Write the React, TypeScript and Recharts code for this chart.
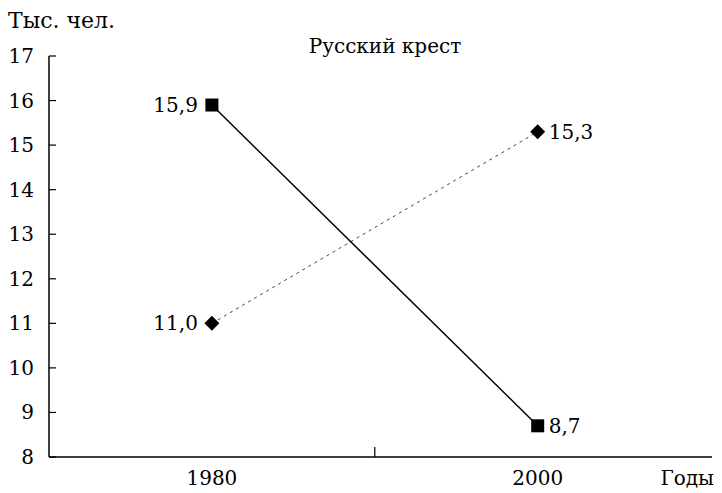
import React from "react";
import { LineChart, Line, XAxis, YAxis, LabelList } from "recharts";

const years = [1980, 2000];
const deaths = [15.9, 8.7]; // solid, squares
const births = [11.0, 15.3]; // dotted, diamonds
const yTicks = [8, 9, 10, 11, 12, 13, 14, 15, 16, 17];
const xTicks = [1980, 1990, 2000];
const labeledYears = [1980, 2000];

const data = years.map((y, i) => ({ year: y, a: deaths[i], b: births[i] }));

const FONT = "'DejaVu Serif', 'Liberation Serif', serif";
const T = { fontFamily: FONT, fontSize: 20 };

const fmt = (v: number) => v.toFixed(1).replace(".", ",");

const SquareDot = (props: any) => {
  const { cx, cy } = props;
  if (cx == null || cy == null) return null;
  return <rect x={cx - 6.5} y={cy - 6.5} width={13} height={13} fill="#000" />;
};

const DiamondDot = (props: any) => {
  const { cx, cy } = props;
  if (cx == null || cy == null) return null;
  const r = 7.5;
  return (
    <polygon
      points={`${cx},${cy - r} ${cx + r},${cy} ${cx},${cy + r} ${cx - r},${cy}`}
      fill="#000"
    />
  );
};

const SideLabel = (props: any) => {
  const { x, y, value, index } = props;
  const left = index === 0;
  return (
    <text
      x={left ? x - 14 : x + 11}
      y={y + 7}
      textAnchor={left ? "end" : "start"}
      style={T}
      fill="#000"
    >
      {fmt(value)}
    </text>
  );
};

const YTick = (props: any) => {
  const { x, y, payload } = props;
  return (
    <g>
      <line x1={x} y1={y} x2={x + 7} y2={y} stroke="#000" strokeWidth={1.2} />
      <text x={x - 15} y={y + 7} textAnchor="end" style={T} fill="#000">
        {payload.value}
      </text>
    </g>
  );
};

const XTick = (props: any) => {
  const { x, y, payload } = props;
  if (!labeledYears.includes(payload.value)) {
    return <line x1={x} y1={y} x2={x} y2={y - 10} stroke="#000" strokeWidth={1.2} />;
  }
  return (
    <text x={x} y={y + 28} textAnchor="middle" style={T} fill="#000">
      {payload.value}
    </text>
  );
};

export default function App() {
  return (
    <div style={{ position: "absolute", left: 0, top: 0, background: "#fff" }}>
      <LineChart
        width={722}
        height={493}
        data={data}
        margin={{ top: 56, right: 10, bottom: 0, left: 0 }}
      >
        <XAxis
          dataKey="year"
          type="number"
          domain={[1970, 2010.7]}
          ticks={xTicks}
          tickLine={false}
          tickSize={0}
          tickMargin={0}
          tick={<XTick />}
          axisLine={{ stroke: "#000", strokeWidth: 1.5 }}
          height={36}
          allowDataOverflow
        />
        <YAxis
          type="number"
          domain={[8, 17]}
          ticks={yTicks}
          tickLine={false}
          tickSize={0}
          tickMargin={0}
          tick={<YTick />}
          axisLine={{ stroke: "#000", strokeWidth: 1.5 }}
          width={49}
          interval={0}
        />
        <Line
          dataKey="b"
          stroke="#444"
          strokeWidth={1}
          strokeDasharray="3 4"
          dot={<DiamondDot />}
          activeDot={false}
          isAnimationActive={false}
        >
          <LabelList dataKey="b" content={<SideLabel />} />
        </Line>
        <Line
          dataKey="a"
          stroke="#000"
          strokeWidth={1.5}
          dot={<SquareDot />}
          activeDot={false}
          isAnimationActive={false}
        >
          <LabelList dataKey="a" content={<SideLabel />} />
        </Line>
        <text x={8} y={28} style={{ fontFamily: FONT, fontSize: 22 }} fill="#000">
          Тыс. чел.
        </text>
        <text x={385} y={53} textAnchor="middle" style={T} fill="#000">
          Русский крест
        </text>
        <text x={714} y={485} textAnchor="end" style={T} fill="#000">
          Годы
        </text>
      </LineChart>
    </div>
  );
}
